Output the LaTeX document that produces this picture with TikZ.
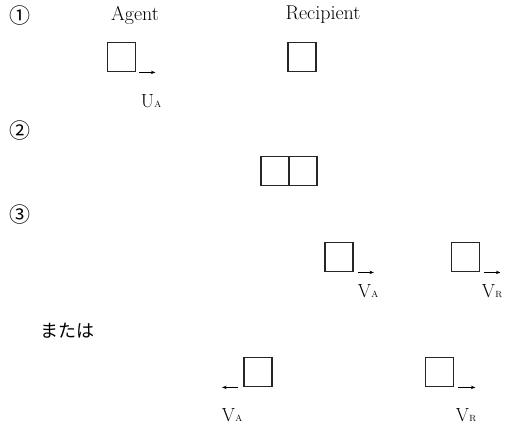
\documentclass[tikz,border=0pt]{standalone}
\usepackage{fontspec}
\newfontfamily\jpfont{Noto Sans CJK JP}
\usetikzlibrary{arrows.meta}
\newcommand\velsub[2]{#1\kern0.3pt\raisebox{-0.6pt}{\fontsize{9}{9}\selectfont #2}}
\tikzset{
  cell/.style={draw=black!85, line width=1.8pt, minimum width=28pt, minimum height=29pt, inner sep=0pt},
  vec/.style={line width=0.8pt, -{Stealth[length=4.5pt,width=3.5pt]}},
  lbl/.style={font=\fontsize{20}{20}\selectfont, inner sep=0pt},
  sym/.style={font=\fontsize{19}{19}\selectfont, inner sep=0pt},
  num/.style={font=\jpfont\fontsize{21}{21}\selectfont, inner sep=0pt},
}
\begin{document}
\begin{tikzpicture}[x=1pt,y=-1pt]
\useasboundingbox (0,0) rectangle (506,426);

% step 1: separate particles
\node[num] (n1) at (20,16) {①};
\node[lbl] (agentlbl) at (135,15) {Agent};
\node[lbl] (reclbl) at (323,15) {Recipient};
\node[cell] (agent) at (121.5,57) {};
\node[cell] (rec) at (302,57) {};
\coordinate (ua) at ([xshift=19pt]agent.south east);
\draw[vec] ([xshift=3pt]agent.south east) -- (ua);
\node[sym] (ualbl) at (151,101) {\velsub{U}{A}};

% step 2: contact
\node[num] (n2) at (20,131) {②};
\node[cell] (cA) at (275,171) {};
\node[cell] (cR) at (303,171) {};

% step 3: both move to the right
\node[num] (n3) at (20,215) {③};
\node[cell] (a3) at (339,257) {};
\node[cell] (r3) at (465.5,257) {};
\coordinate (va3) at ([xshift=20pt]a3.south east);
\coordinate (vr3) at ([xshift=20pt]r3.south east);
\draw[vec] ([xshift=4pt]a3.south east) -- (va3);
\draw[vec] ([xshift=4pt]r3.south east) -- (vr3);
\node[sym] (va3lbl) at (368,291) {\velsub{V}{A}};
\node[sym] (vr3lbl) at (492,291) {\velsub{V}{R}};

% alternative: agent rebounds
\node[font=\jpfont\fontsize{18}{18}\selectfont, inner sep=0pt] (or) at (67,331) {または};
\node[cell] (a4) at (258,372) {};
\node[cell] (r4) at (439.5,372) {};
\coordinate (va4) at ([xshift=-21pt]a4.south west);
\coordinate (vr4) at ([xshift=21pt]r4.south east);
\draw[vec] ([xshift=-5pt]a4.south west) -- (va4);
\draw[vec] ([xshift=4pt]r4.south east) -- (vr4);
\node[sym] (va4lbl) at (232,415) {\velsub{V}{A}};
\node[sym] (vr4lbl) at (466,415) {\velsub{V}{R}};
\end{tikzpicture}
\end{document}
